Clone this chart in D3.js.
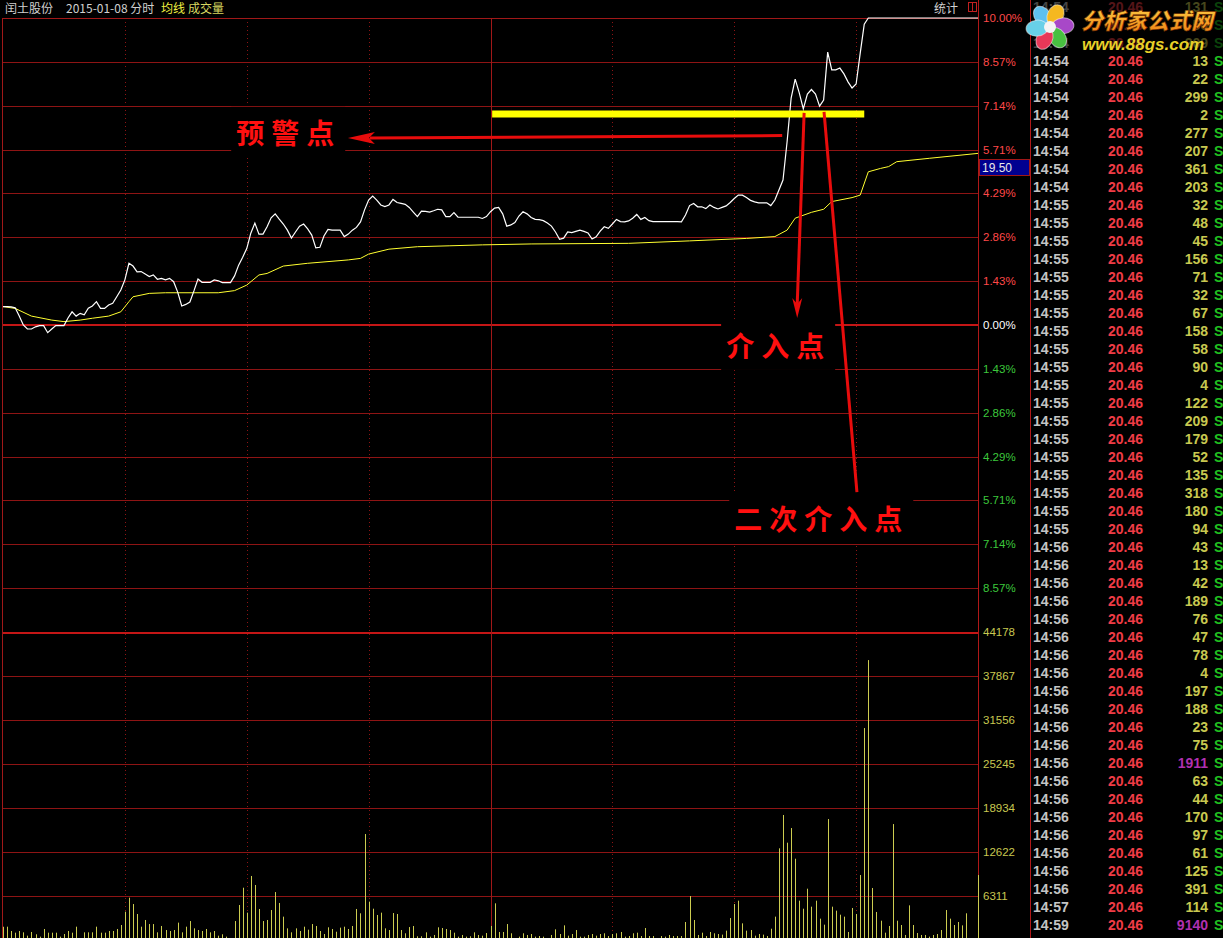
<!DOCTYPE html>
<html><head><meta charset="utf-8">
<script src="https://cdn.jsdelivr.net/npm/d3@7"></script>
<style>html,body{margin:0;padding:0;background:#000;overflow:hidden}</style>
</head><body>
<svg id="c" width="1223" height="938"></svg>
<script>
// ---------- DATA ----------
const stockName = "闰土股份";
const dateLabel = "2015-01-08 分时";
const pctTickValues = [10, 8.57, 7.14, 5.71, 4.29, 2.86, 1.43, 0, -1.43, -2.86, -4.29, -5.71, -7.14, -8.57];
const pctTickLabels = ["10.00%","8.57%","7.14%","5.71%","4.29%","2.86%","1.43%","0.00%","1.43%","2.86%","4.29%","5.71%","7.14%","8.57%"];
const volTickValues = [44178, 37867, 31556, 25245, 18934, 12622, 6311];
const timeGridMinutes = [30, 60, 90, 120, 150, 180, 210];

// price line: [minute index, % change]
const pricePoints = [
[0,0.60],[1,0.60],[2,0.59],[3,0.56],[4,0.29],[5,0.00],[6,-0.13],[7,-0.13],[8,-0.06],[9,-0.02],[10,-0.02],[11,-0.25],[12,-0.13],[13,-0.02],[14,-0.02],[15,-0.02],[16,0.23],[17,0.43],[18,0.29],[19,0.38],[20,0.33],[21,0.55],[22,0.62],[23,0.76],[24,0.54],[25,0.54],[26,0.65],[27,0.71],[28,0.92],[29,1.14],[30,1.47],[31,2.01],[32,1.92],[33,1.73],[34,1.74],[35,1.66],[36,1.58],[37,1.63],[38,1.49],[39,1.52],[40,1.47],[41,1.52],[42,1.41],[43,1.07],[44,0.62],[45,0.67],[46,0.75],[47,1.11],[48,1.50],[49,1.39],[50,1.39],[51,1.39],[52,1.47],[53,1.44],[54,1.38],[55,1.38],[56,1.38],[57,1.60],[58,1.95],[59,2.21],[60,2.49],[61,2.99],[62,3.32],[63,2.96],[64,2.96],[65,3.20],[66,3.49],[67,3.62],[68,3.45],[69,3.29],[70,3.09],[71,2.83],[72,3.03],[73,3.22],[74,3.29],[75,3.13],[76,2.93],[77,2.51],[78,2.53],[79,2.90],[80,3.11],[81,3.09],[82,3.09],[83,3.09],[84,2.88],[85,2.96],[86,3.09],[87,3.18],[88,3.36],[89,3.75],[90,4.07],[91,4.20],[92,4.07],[93,3.91],[94,3.86],[95,3.91],[96,4.09],[97,3.99],[98,3.96],[99,3.93],[100,3.83],[101,3.68],[102,3.53],[103,3.71],[104,3.70],[105,3.68],[106,3.72],[107,3.77],[108,3.75],[109,3.53],[110,3.53],[111,3.66],[112,3.51],[113,3.51],[114,3.51],[115,3.51],[116,3.51],[117,3.51],[118,3.47],[119,3.53],[120,3.69],[121,3.81],[122,3.83],[123,3.62],[124,3.22],[125,3.26],[126,3.34],[127,3.55],[128,3.69],[129,3.62],[130,3.50],[131,3.44],[132,3.43],[133,3.40],[134,3.32],[135,3.22],[136,3.03],[137,2.79],[138,2.83],[139,3.03],[140,3.01],[141,3.05],[142,3.09],[143,3.05],[144,3.00],[145,2.80],[146,2.87],[147,3.06],[148,3.20],[149,3.15],[150,3.29],[151,3.44],[152,3.37],[153,3.36],[154,3.39],[155,3.48],[156,3.60],[157,3.44],[158,3.50],[159,3.40],[160,3.37],[161,3.37],[162,3.37],[163,3.37],[164,3.37],[165,3.37],[166,3.37],[167,3.36],[168,3.58],[169,3.89],[170,3.96],[171,3.85],[172,3.85],[173,3.79],[174,3.91],[175,3.83],[176,3.78],[177,3.83],[178,3.88],[179,3.99],[180,4.12],[181,4.23],[182,4.23],[183,4.15],[184,4.06],[185,4.01],[186,3.98],[187,3.98],[188,3.98],[189,3.89],[190,4.07],[191,4.40],[192,4.72],[193,5.96],[194,7.39],[195,8.01],[196,7.56],[197,7.04],[198,7.52],[199,7.67],[200,7.52],[201,7.13],[202,7.33],[203,8.89],[204,8.31],[205,8.31],[206,8.37],[207,8.18],[208,7.92],[209,7.72],[210,7.85],[211,8.85],[212,9.80],[213,10.00],[240,10.00]
];

// average price line: [minute index, % change]
const avgPoints = [
[0,0.60],[3,0.54],[7,0.29],[12,0.16],[15,0.11],[19,0.16],[22,0.22],[26,0.29],[29,0.43],[31,0.76],[32,0.92],[36,1.03],[40,1.05],[53,1.05],[57,1.12],[60,1.30],[63,1.63],[65,1.68],[69,1.92],[75,2.01],[85,2.12],[88,2.17],[90,2.31],[95,2.47],[102,2.55],[110,2.58],[118,2.61],[130,2.64],[154,2.66],[169,2.74],[183,2.82],[190,2.88],[193,3.09],[195,3.48],[199,3.67],[202,3.77],[204,4.02],[209,4.15],[211,4.23],[213,4.99],[216,5.10],[218,5.16],[220,5.32],[228,5.43],[240,5.59]
];

// per-minute volume (hands), minute 0..240
const volumes = [
1900,1910,1290,1050,1290,1100,620,1150,820,480,1580,1050,1050,1050,480,860,1290,1050,1910,200,
1100,1100,1100,1910,1050,1050,1290,1290,1580,2150,4060,6070,5160,3730,1910,2870,2290,2290,1100,2010,
1430,1290,1430,2490,1100,1910,2720,1670,1430,1290,1580,1100,1290,620,820,480,150,2720,5020,7500,
3920,9180,7890,4450,2720,2870,4300,6880,5310,3350,1670,1100,1670,1290,1910,1480,2290,2010,1290,860,
1820,1580,1190,1770,1910,1580,2010,4450,3830,15200,5500,4490,3590,3920,1670,1430,3870,3730,1430,960,
1860,2010,530,530,1100,480,720,1820,1720,1580,1430,1050,480,720,480,530,1100,720,620,1000,
2010,5260,1150,1150,2290,960,200,480,960,720,860,480,570,480,200,720,1530,860,2100,620,
860,1430,480,480,720,860,620,860,960,570,860,960,1150,480,570,960,1050,570,1720,570,
570,200,570,480,720,570,570,570,2580,6310,2870,720,1050,570,1150,960,860,770,1340,3150,
5160,5640,2390,1340,1430,620,860,770,570,1620,3350,13150,17930,13960,16060,11660,5640,4490,7360,4780,
5640,3060,2200,17350,4780,4210,3630,3350,1150,4590,3730,9320,30400,40150,7460,4020,2770,1050,2010,16630,
2770,2150,720,4970,2150,1000,720,720,480,720,860,1430,4300,3060,2150,2580,2100,3830,120,0,
9320
];

// tick-by-tick trade list
const tradeTimes = ["14:54","14:54","14:54","14:54","14:54","14:54","14:54","14:54","14:54","14:54","14:54",
"14:55","14:55","14:55","14:55","14:55","14:55","14:55","14:55","14:55","14:55","14:55","14:55","14:55","14:55","14:55","14:55","14:55","14:55","14:55",
"14:56","14:56","14:56","14:56","14:56","14:56","14:56","14:56","14:56","14:56","14:56","14:56","14:56","14:56","14:56","14:56","14:56","14:56","14:56","14:56",
"14:57","14:59"];
const tradePrices = tradeTimes.map(() => "20.46");
const tradeVols = [131,56,209,13,22,299,2,277,207,361,203,
32,48,45,156,71,32,67,158,58,90,4,122,209,179,52,135,318,180,94,
43,13,42,189,76,47,78,4,197,188,23,75,1911,63,44,170,97,61,125,391,
114,9140];
const tradeSides = tradeTimes.map(() => "S");

const avgPriceTag = "19.50";

// annotations in data coordinates (minute, % change)
const warnArrow = {from:[191.8, 6.17], to:[84.9, 6.09]};
const entryArrow = {from:[197.2, 6.91], to:[195.5, 0.23]};
const entry2Line = {from:[202.1, 6.94], to:[210.2, -5.44]};
const warnBar = {from:120.4, to:212, level:6.87};
const labels = [
  {text:"预警点", at:[57.4, 6.29]},
  {text:"介入点", at:[178.0, -0.65]},
  {text:"二次介入点", at:[180.0, -6.29]}
];

// ---------- DRAW ----------
const svg = d3.select('#c');
svg.append('rect').attr('width',1223).attr('height',938).attr('fill','#000');

const x = d3.scaleLinear().domain([0,240]).range([3,978]);
const yP = d3.scaleLinear().domain([-10,10]).range([632,18]);
const yV = d3.scaleLinear().domain([0,44178]).range([940,632]);
const px = v => Math.round(v) + 0.5;

const gridColor = '#8e1414';
const g = svg.append('g');

g.selectAll('line.hp').data(pctTickValues.filter(d => d !== 0)).join('line')
  .attr('x1', x(0)).attr('x2', 979)
  .attr('y1', d => px(yP(d))).attr('y2', d => px(yP(d)))
  .attr('stroke', gridColor).attr('stroke-width', 1);
g.append('line').attr('x1', x(0)).attr('x2', 979)
  .attr('y1', Math.round(yP(0))).attr('y2', Math.round(yP(0)))
  .attr('stroke', '#c41616').attr('stroke-width', 2);
g.append('line').attr('x1', x(0)).attr('x2', 979)
  .attr('y1', Math.round(yP(-10))+1).attr('y2', Math.round(yP(-10))+1)
  .attr('stroke', '#c41616').attr('stroke-width', 2);
g.selectAll('line.hv').data(volTickValues.slice(1)).join('line')
  .attr('x1', x(0)).attr('x2', 979)
  .attr('y1', d => px(yV(d))).attr('y2', d => px(yV(d)))
  .attr('stroke', gridColor).attr('stroke-width', 1);

g.selectAll('line.v').data(timeGridMinutes).join('line')
  .attr('x1', d => px(x(d))).attr('x2', d => px(x(d)))
  .attr('y1', 18).attr('y2', 938)
  .attr('stroke', d => d === 120 ? '#a01818' : '#8e1414')
  .attr('stroke-width', 1)
  .attr('stroke-dasharray', d => d === 120 ? null : '1,3');
g.append('line').attr('x1', px(x(0))-1).attr('x2', px(x(0))-1).attr('y1', 18).attr('y2', 938).attr('stroke', '#a01818');
g.append('line').attr('x1', 2).attr('x2', 979).attr('y1', 18.5).attr('y2', 18.5).attr('stroke', '#a01818');
g.append('line').attr('x1', 978.5).attr('x2', 978.5).attr('y1', 0).attr('y2', 938).attr('stroke', '#b01818');
g.append('line').attr('x1', 1030.5).attr('x2', 1030.5).attr('y1', 0).attr('y2', 938).attr('stroke', '#b01818');

const pctAxis = d3.axisRight(yP).tickValues(pctTickValues)
  .tickFormat((d, i) => pctTickLabels[i]).tickSize(0).tickPadding(4);
const pa = svg.append('g').attr('transform', 'translate(979,0)').call(pctAxis);
pa.select('.domain').remove();
pa.selectAll('text')
  .attr('font-family', 'Liberation Sans, Arial, sans-serif').attr('font-size', 11.5)
  .attr('fill', d => d > 0 ? '#ff4848' : (d < 0 ? '#3cc83c' : '#ffffff'));

const volAxis = d3.axisRight(yV).tickValues(volTickValues).tickFormat(d => String(d)).tickSize(0).tickPadding(4);
const va = svg.append('g').attr('transform', 'translate(979,0)').call(volAxis);
va.select('.domain').remove();
va.selectAll('text')
  .attr('font-family', 'Liberation Sans, Arial, sans-serif').attr('font-size', 11.5)
  .attr('fill', '#c8c850');

const tagY = yP(avgPoints[avgPoints.length-1][1]) + 15;
svg.append('rect').attr('x', 979.5).attr('y', Math.round(tagY) - 8.5).attr('width', 50).attr('height', 16)
  .attr('fill', '#000090').attr('stroke', '#a01818');
svg.append('text').attr('x', 982).attr('y', Math.round(tagY)).attr('dy', '0.35em')
  .attr('font-family', 'Liberation Sans, Arial, sans-serif').attr('font-size', 12)
  .attr('fill', '#e8e8e8').text(avgPriceTag);

svg.append('g').selectAll('line').data(volumes).join('line')
  .attr('x1', (d, i) => px(x(i))).attr('x2', (d, i) => px(x(i)))
  .attr('y1', d => yV(d)).attr('y2', yV(0))
  .attr('stroke', '#cccc50').attr('stroke-width', 1);

const line = d3.line().x(d => x(d[0])).y(d => yP(d[1]));
svg.append('path').datum(avgPoints).attr('d', line)
  .attr('fill', 'none').attr('stroke', '#ffff30').attr('stroke-width', 1);
svg.append('path').datum(pricePoints).attr('d', line)
  .attr('fill', 'none').attr('stroke', '#ffffff').attr('stroke-width', 1.2);

// header
const hdr = svg.append('g').attr('font-family', 'Noto Sans CJK SC, sans-serif').attr('font-size', 12);
hdr.append('text').attr('x', 5).attr('y', 8.5).attr('dy', '0.35em').attr('fill', '#d0d0d0').text(stockName);
hdr.append('text').attr('x', 66).attr('y', 8.5).attr('dy', '0.35em').attr('fill', '#d0d0d0').text(dateLabel);
hdr.append('text').attr('x', 161).attr('y', 8.5).attr('dy', '0.35em').attr('fill', '#f0f040').text("均线");
hdr.append('text').attr('x', 188).attr('y', 8.5).attr('dy', '0.35em').attr('fill', '#d8d860').text("成交量");
hdr.append('text').attr('x', 934).attr('y', 8.5).attr('dy', '0.35em').attr('fill', '#d0d0d0').text("统计");
svg.append('rect').attr('x', 968.5).attr('y', 2.5).attr('width', 8).attr('height', 9)
  .attr('fill', 'none').attr('stroke', '#c02020');
svg.append('line').attr('x1', 972.5).attr('x2', 972.5).attr('y1', 3).attr('y2', 11).attr('stroke', '#c02020');

// trade table
const tbl = svg.append('g').attr('font-family', 'Liberation Sans, Arial, sans-serif')
  .attr('font-size', 14).attr('font-weight', 'bold');
const rowY = i => 7 + 18 * i;
tbl.selectAll('text.t').data(tradeTimes).join('text')
  .attr('x', 1033).attr('y', (d, i) => rowY(i)).attr('dy', '0.36em').attr('fill', '#c4c4c4').text(d => d);
tbl.selectAll('text.p').data(tradePrices).join('text')
  .attr('x', 1143).attr('y', (d, i) => rowY(i)).attr('dy', '0.36em').attr('text-anchor', 'end').attr('fill', '#f03c46').text(d => d);
tbl.selectAll('text.vv').data(tradeVols).join('text')
  .attr('x', 1208).attr('y', (d, i) => rowY(i)).attr('dy', '0.36em').attr('text-anchor', 'end')
  .attr('fill', d => d >= 1000 ? '#b030b0' : '#c8c850').text(d => d);
tbl.selectAll('text.s').data(tradeSides).join('text')
  .attr('x', 1214).attr('y', (d, i) => rowY(i)).attr('dy', '0.36em').attr('fill', '#20c020').text(d => d);

// logo
const logo = svg.append('g');
logo.append('rect').attr('x', 1031).attr('y', 0).attr('width', 192).attr('height', 52).attr('fill', '#000').attr('opacity', 0.65);
const petals = [
  {a:-125, c:'#5ec0f0'}, {a:-65, c:'#f5b820'}, {a:-5, c:'#a848c8'},
  {a:55, c:'#48c040'}, {a:115, c:'#e83858'}, {a:175, c:'#68d0e8'}
];
const fl = logo.append('g').attr('transform', 'translate(1050,27)');
fl.selectAll('ellipse').data(petals).join('ellipse')
  .attr('cx', d => 13 * Math.cos(d.a * Math.PI / 180))
  .attr('cy', d => 13 * Math.sin(d.a * Math.PI / 180))
  .attr('rx', 11).attr('ry', 8)
  .attr('transform', d => `rotate(${d.a},${13*Math.cos(d.a*Math.PI/180)},${13*Math.sin(d.a*Math.PI/180)})`)
  .attr('fill', d => d.c).attr('stroke', '#ffffff').attr('stroke-opacity', 0.5);
fl.append('circle').attr('r', 6).attr('fill', '#f4f4f4');
const defs = svg.append('defs');
const lg = defs.append('linearGradient').attr('id', 'lg').attr('x1', 0).attr('y1', 0).attr('x2', 0).attr('y2', 1);
lg.append('stop').attr('offset', '0%').attr('stop-color', '#ffd84a');
lg.append('stop').attr('offset', '100%').attr('stop-color', '#f07a10');
logo.append('text').attr('x', 1081).attr('y', 29).attr('font-family', 'Noto Sans CJK SC, sans-serif')
  .attr('font-size', 22).attr('font-weight', 900).attr('font-style', 'italic')
  .attr('fill', 'url(#lg)').attr('stroke', '#6a2a00').attr('stroke-width', 0.6).text("分析家公式网");
logo.append('text').attr('x', 1082).attr('y', 50).attr('font-family', 'Liberation Sans, Arial, sans-serif')
  .attr('font-size', 17).attr('font-weight', 'bold').attr('font-style', 'italic')
  .attr('fill', '#e8d028').text("www.88gs.com");

// annotations
const ann = svg.append('g');
const maskG = ann.append('g');
const red = '#e80c0c';
const lblG = ann.append('g');
const lbl = lblG.selectAll('text').data(labels).join('text')
  .attr('x', d => x(d.at[0])).attr('y', d => yP(d.at[1]))
  .attr('dominant-baseline', 'central')
  .attr('font-family', 'Noto Sans CJK SC, sans-serif').attr('font-size', 28).attr('font-weight', 'bold')
  .attr('letter-spacing', 7).attr('fill', '#ff1010').text(d => d.text);
lbl.each(function() {
  const b = this.getBBox();
  maskG.append('rect').attr('x', b.x - 5).attr('y', b.y - 5).attr('width', b.width + 9).attr('height', b.height + 10).attr('fill', '#000');
});
ann.append('line').attr('x1', x(warnBar.from)).attr('x2', x(warnBar.to))
  .attr('y1', yP(warnBar.level)).attr('y2', yP(warnBar.level))
  .attr('stroke', '#ffff00').attr('stroke-width', 7);
{
  const [a, b] = [warnArrow.from, warnArrow.to];
  const x1 = x(a[0]), y1 = yP(a[1]), x2 = x(b[0]), y2 = yP(b[1]);
  ann.append('line').attr('x1', x1).attr('y1', y1).attr('x2', x2 + 22).attr('y2', y2).attr('stroke', red).attr('stroke-width', 3);
  ann.append('path').attr('d', `M${x2},${y2} L${x2+27},${y2-6} L${x2+21},${y2} L${x2+27},${y2+6} Z`).attr('fill', red);
}
{
  const [a, b] = [entryArrow.from, entryArrow.to];
  const x1 = x(a[0]), y1 = yP(a[1]), x2 = x(b[0]), y2 = yP(b[1]);
  ann.append('line').attr('x1', x1).attr('y1', y1).attr('x2', x2).attr('y2', y2 - 14).attr('stroke', red).attr('stroke-width', 3);
  ann.append('path').attr('d', `M${x2},${y2} L${x2-5},${y2-20} L${x2},${y2-14} L${x2+5},${y2-20} Z`).attr('fill', red);
}
ann.append('line').attr('x1', x(entry2Line.from[0])).attr('y1', yP(entry2Line.from[1]))
  .attr('x2', x(entry2Line.to[0])).attr('y2', yP(entry2Line.to[1]))
  .attr('stroke', red).attr('stroke-width', 3);
lblG.raise();
</script>
</body></html>
